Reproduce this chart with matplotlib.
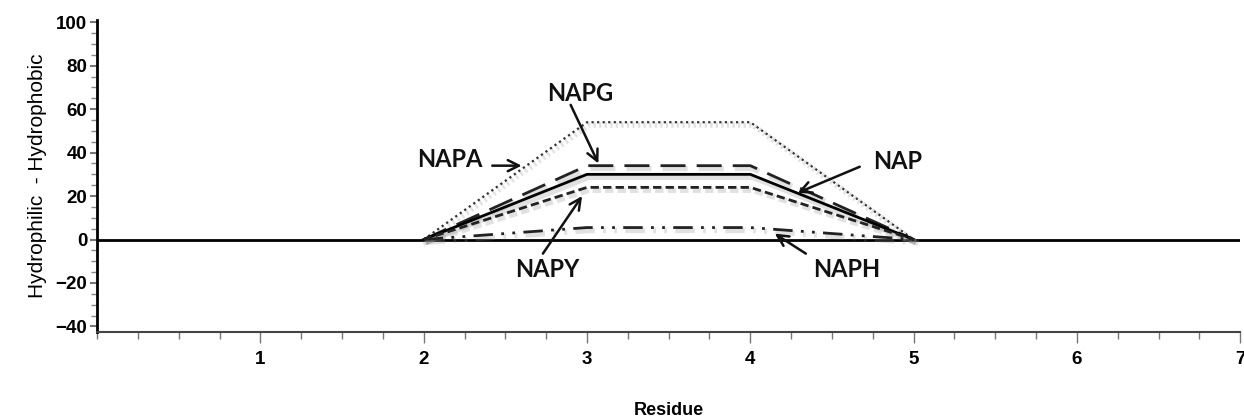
import matplotlib
matplotlib.use('Agg')
import matplotlib.pyplot as plt
import matplotlib.patheffects as pe
from matplotlib.ticker import MultipleLocator

# residue positions and hydrophobicity profile for each peptide
residue = [2, 3, 4, 5]
napa = [0, 54, 54, 0]
napg = [0, 34, 34, 0]
nap = [0, 30, 30, 0]
napy = [0, 24, 24, 0]
naph = [0, 5.5, 5.5, 0]

xticks = [1, 2, 3, 4, 5, 6, 7]
yticks = [-40, -20, 0, 20, 40, 60, 80, 100]

# (label, text position, arrow tail, arrow tip)
notes = [
    ('NAPA', (2.16, 37), (2.42, 34), (2.60, 34)),
    ('NAPG', (2.96, 67), (2.90, 62), (3.07, 35)),
    ('NAP', (4.90, 36), (4.67, 33.5), (4.29, 21.5)),
    ('NAPY', (2.76, -14), (2.73, -6.5), (2.97, 20)),
    ('NAPH', (4.59, -14), (4.34, -6.5), (4.15, 2.7)),
]

fig = plt.figure(figsize=(12.44, 4.2), dpi=100)
ax = fig.add_axes([0.078, 0.21, 0.919, 0.742])

shadow = [pe.SimpleLineShadow(offset=(1.5, -2), shadow_color='#888888', alpha=0.25, linewidth=4),
          pe.Normal()]

ax.axhline(0, color='black', lw=2, zorder=1)
ax.plot(residue, napa, color='#333333', lw=1.6, ls=(0, (1, 1.5)), path_effects=shadow, zorder=3)
ax.plot(residue, napg, color='#222222', lw=2, ls=(0, (9, 4)), path_effects=shadow, zorder=3)
ax.plot(residue, nap, color='black', lw=2, path_effects=shadow, zorder=3)
ax.plot(residue, napy, color='#222222', lw=2, ls=(0, (3, 1.5)), path_effects=shadow, zorder=3)
ax.plot(residue, naph, color='#222222', lw=2, ls=(0, (7, 3, 1, 3, 1, 3)), path_effects=shadow, zorder=3)

for label, txt, tail, tip in notes:
    ax.annotate('', xy=tip, xytext=tail,
                arrowprops=dict(arrowstyle='->,head_length=0.8,head_width=0.4',
                                color='#111111', lw=1.8, shrinkA=0, shrinkB=0))
    ax.text(txt[0], txt[1], label, ha='center', va='center', fontsize=17,
            fontweight='bold', family=['Lato', 'DejaVu Sans'], color='#111111')

ax.set_xlim(0, 7)
ax.set_ylim(-42.5, 101)
ax.set_xticks(xticks)
ax.set_yticks(yticks)
ax.xaxis.set_minor_locator(MultipleLocator(0.25))
ax.yaxis.set_minor_locator(MultipleLocator(5))

for s in ['top', 'right']:
    ax.spines[s].set_visible(False)
ax.spines['left'].set_linewidth(2)
ax.spines['left'].set_color('black')
ax.spines['bottom'].set_linewidth(1.5)
ax.spines['bottom'].set_color('#444444')

ax.tick_params(axis='x', which='major', length=8, width=1, color='#777777', pad=6)
ax.tick_params(axis='x', which='minor', length=5, width=1, color='#777777')
ax.tick_params(axis='y', which='major', length=5, width=1.5, color='#777777', pad=2)
ax.tick_params(axis='y', which='minor', length=4, width=1, color='#888888')
for lab in ax.get_xticklabels() + ax.get_yticklabels():
    lab.set_fontweight('bold')
    lab.set_fontsize(13.5)
    lab.set_family(['Liberation Sans', 'DejaVu Sans'])

ax.set_xlabel('Residue', fontsize=13, fontweight='bold', family=['Liberation Sans', 'DejaVu Sans'],
              labelpad=24)
ax.set_ylabel('Hydrophilic  - Hydrophobic', fontsize=15, family=['Liberation Sans', 'DejaVu Sans'],
              labelpad=6)

fig.savefig('out.png', dpi=100)
